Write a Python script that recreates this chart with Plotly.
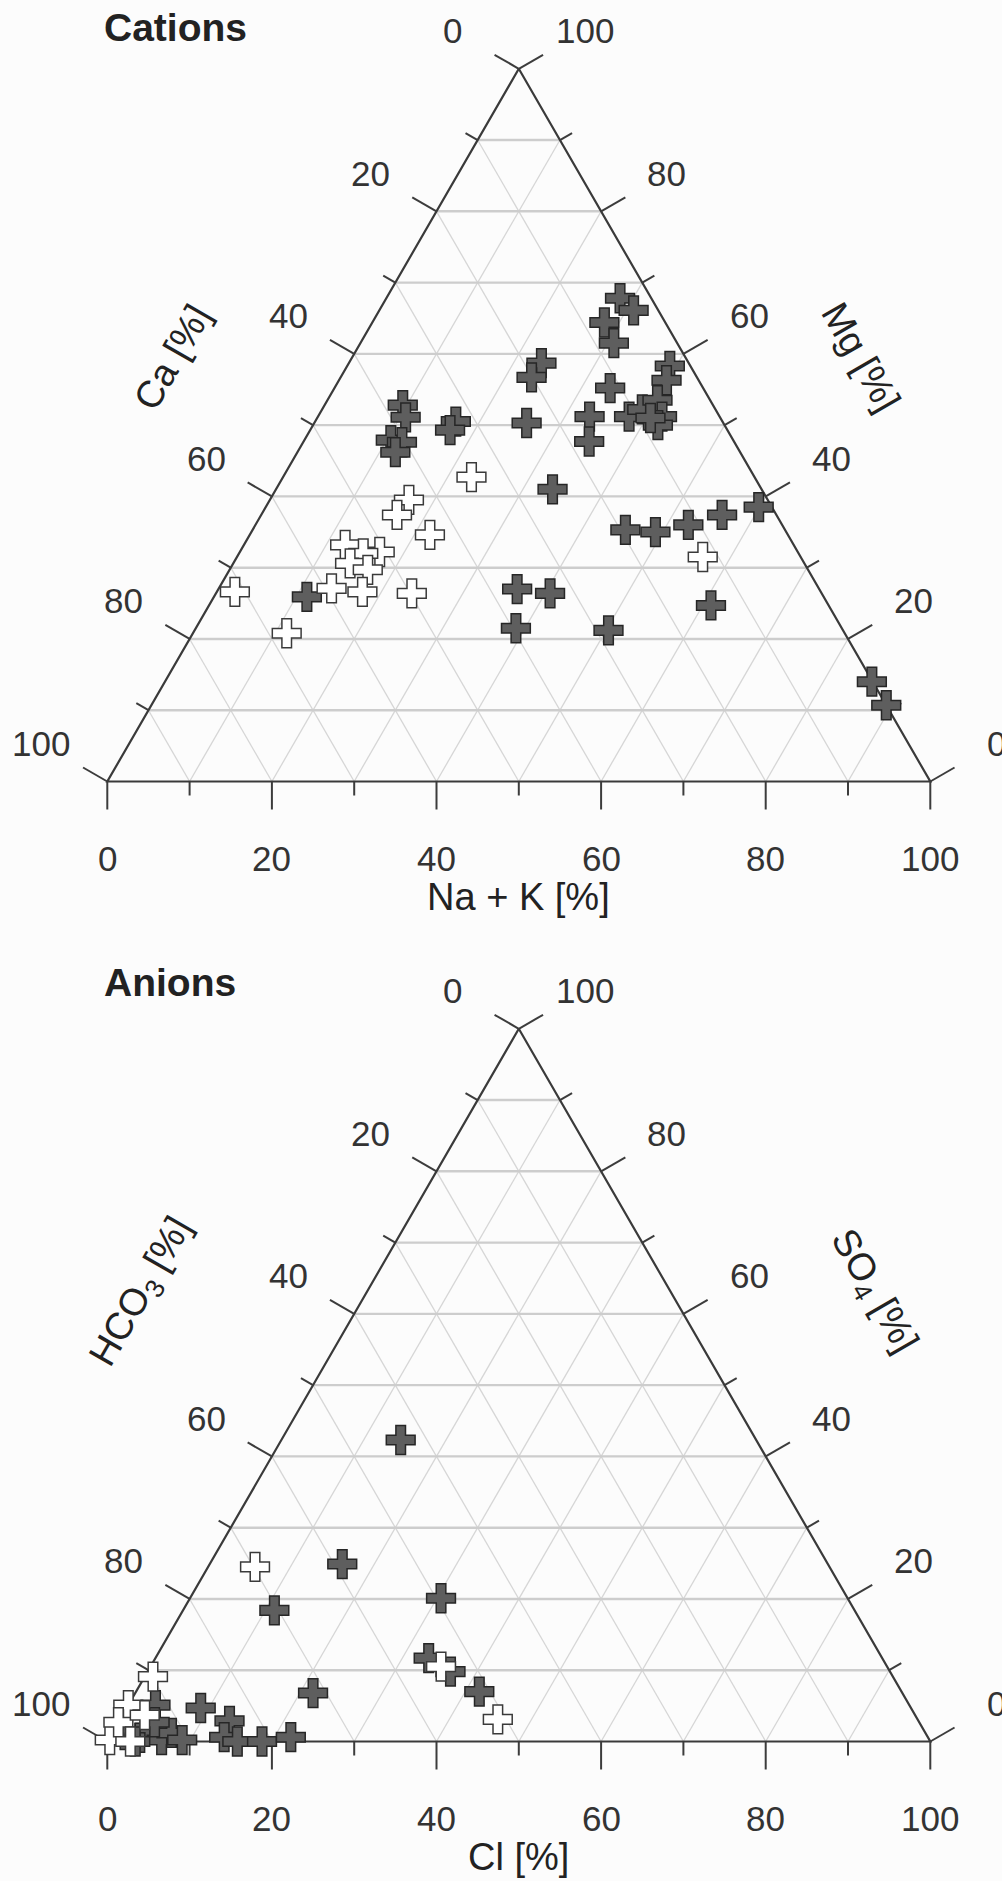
import math
import plotly.graph_objects as go

# ---------------- data (percent) ----------------
# Cations, dark symbols
cat_dark_ca = [3.8, 3.0, 7.4, 7.7, 17.9, 20.1, 2.5, 3.9, 11.3, 11.0, 8.9, 6.4, 7.0, 8.1, 8.5,
               15.8, 17.6, 23.9, 32.4, 33.7, 37.7, 38.2, 41.6, 40.4, 41.9, 25.4, 19.4, 15.9,
               11.4, 6.6, 1.6, 36.7, 33.0, 14.3, 39.6, 28.5, 0.1, 0.0, 62.8]
cat_dark_mg = [67.8, 66.1, 64.4, 61.5, 58.7, 56.7, 58.3, 56.3, 55.2, 51.2, 52.2, 53.5, 51.2, 50.0, 51.0,
               51.2, 47.7, 50.3, 50.5, 49.3, 52.8, 51.1, 47.9, 47.6, 46.2, 41.0, 35.3, 35.0,
               36.0, 37.4, 38.5, 27.0, 26.4, 24.7, 21.5, 21.2, 14.0, 10.7, 25.9]
cat_dark_nak = [28.4, 30.9, 28.2, 30.8, 23.4, 23.2, 39.2, 39.8, 33.5, 37.8, 38.9, 40.1, 41.8, 41.9, 40.5,
                33.0, 34.7, 25.8, 17.1, 17.0, 9.5, 10.7, 10.5, 12.0, 11.9, 33.6, 45.3, 49.1,
                52.6, 56.0, 59.9, 36.3, 40.6, 61.0, 38.9, 50.3, 85.9, 89.3, 11.3]
# Cations, open symbols
cat_open_ca = [34.4, 43.6, 46.1, 43.5, 54.5, 50.8, 52.9, 55.2, 53.5, 71.2, 59.2, 55.7, 49.8, 67.8, 11.9]
cat_open_mg = [42.7, 39.5, 37.4, 34.6, 33.2, 32.2, 32.0, 30.6, 29.7, 26.6, 27.1, 26.6, 26.4, 20.8, 31.5]
cat_open_nak = [22.9, 16.9, 16.5, 21.9, 12.3, 17.0, 15.1, 14.2, 16.8, 2.2, 13.7, 17.7, 23.8, 11.4, 56.6]

# Anions, dark symbols
an_dark_hco3 = [43.2, 59.0, 70.5, 49.4, 55.1, 53.4, 51.3, 71.6, 86.3, 83.7, 85.5, 84.2, 81.2, 77.4, 91.6,
                97.4, 95.8, 93.9, 93.3, 91.6, 90.8, 92.9, 96.6]
an_dark_so4 = [42.3, 24.9, 18.4, 20.1, 11.7, 9.8, 7.0, 6.8, 4.7, 2.9, 0.6, 0.0, 0.0, 0.6, 5.1,
               0.9, 0.5, 1.9, 0.2, 1.2, 0.2, 2.7, 0.0]
an_dark_cl = [14.5, 16.1, 11.1, 30.5, 33.2, 36.8, 41.7, 21.6, 9.0, 13.4, 13.9, 15.8, 18.8, 22.0, 3.3,
              1.7, 3.7, 4.2, 6.5, 7.2, 9.0, 4.4, 3.4]
# Anions, open symbols
an_open_hco3 = [69.8, 51.0, 89.9, 94.9, 54.2, 99.6, 97.3, 97.2, 93.6]
an_open_so4 = [24.5, 3.1, 9.1, 5.1, 10.5, 0.2, 2.7, 0.0, 3.7]
an_open_cl = [5.7, 45.9, 1.0, 0.0, 35.3, 0.2, 0.0, 2.8, 2.7]

tick_steps = list(range(0, 101, 10))
grid_steps = list(range(10, 100, 10))

# ---------------- geometry / style ----------------
FIG_W, FIG_H = 1002, 1881
PX = 8.23            # pixels per percent
X0 = 107.3           # pixel x of the left vertex
CAT_BASE = 781.5     # pixel y of cation base line
AN_BASE = 1741.5     # pixel y of anion base line
SPLIT = 940
S3 = math.sqrt(3) / 2
FONT = "Liberation Sans, Arial, Helvetica, sans-serif"
TXT = "#333333"
TITLE_C = "#222222"


def proj(top, right):
    return right + top / 2.0, top * S3


fig = go.Figure()
annotations = []


def build(xa, ya, top, right, open_top, open_right, title, left_title, right_title,
          bottom_title, title_pos, left_pos, right_pos):
    # grid lines
    hx, hy, dx, dy = [], [], [], []
    for v in grid_steps:
        a = proj(v, 0); b = proj(v, 100 - v)
        hx += [a[0], b[0], None]; hy += [a[1], b[1], None]
        a = proj(0, v); b = proj(100 - v, v)
        dx += [a[0], b[0], None]; dy += [a[1], b[1], None]
        a = proj(0, 100 - v); b = proj(100 - v, 0)
        dx += [a[0], b[0], None]; dy += [a[1], b[1], None]
    fig.add_trace(go.Scatter(x=dx, y=dy, mode="lines", xaxis=xa, yaxis=ya,
                             line=dict(color="#d6d6d6", width=1.3), hoverinfo="skip",
                             showlegend=False))
    fig.add_trace(go.Scatter(x=hx, y=hy, mode="lines", xaxis=xa, yaxis=ya,
                             line=dict(color="#cdcdcd", width=2.4), hoverinfo="skip",
                             showlegend=False))
    # ticks and tick labels
    tx, ty = [], []
    lab_d = 76 / PX
    lab_font = dict(size=35, color=TXT, family=FONT)
    for v in tick_steps:
        major = v % 20 == 0
        L = (28 if major else 14) / PX
        # left edge (bottom-left component = v)
        p = proj(100 - v, 0); d = (-S3, 0.5)
        tx += [p[0], p[0] + d[0] * L, None]; ty += [p[1], p[1] + d[1] * L, None]
        if major:
            annotations.append(dict(x=p[0] + d[0] * lab_d, y=p[1] + d[1] * lab_d, xref=xa,
                                    yref=ya, text=str(v), showarrow=False, font=lab_font))
        # right edge (top component = v)
        p = proj(v, 100 - v); d = (S3, 0.5)
        tx += [p[0], p[0] + d[0] * L, None]; ty += [p[1], p[1] + d[1] * L, None]
        if major:
            annotations.append(dict(x=p[0] + d[0] * lab_d, y=p[1] + d[1] * lab_d, xref=xa,
                                    yref=ya, text=str(v), showarrow=False, font=lab_font))
        # bottom edge (right component = v)
        p = proj(0, v); d = (0, -1)
        tx += [p[0], p[0] + d[0] * L, None]; ty += [p[1], p[1] + d[1] * L, None]
        if major:
            annotations.append(dict(x=p[0], y=p[1] - 77 / PX, xref=xa, yref=ya,
                                    text=str(v), showarrow=False, font=lab_font))
    fig.add_trace(go.Scatter(x=tx, y=ty, mode="lines", xaxis=xa, yaxis=ya,
                             line=dict(color="#3c3c3c", width=2), hoverinfo="skip",
                             showlegend=False))
    # edges
    e = [proj(100, 0), proj(0, 0), proj(0, 100), proj(100, 0)]
    fig.add_trace(go.Scatter(x=[q[0] for q in e], y=[q[1] for q in e], mode="lines",
                             xaxis=xa, yaxis=ya, line=dict(color="#3a3a3a", width=2.2),
                             hoverinfo="skip", showlegend=False))
    # data points
    pts = [proj(t, r) for t, r in zip(top, right)]
    fig.add_trace(go.Scatter(x=[q[0] for q in pts], y=[q[1] for q in pts], mode="markers",
                             xaxis=xa, yaxis=ya, showlegend=False,
                             marker=dict(symbol="cross", size=24, color="#5e5e5e",
                                         line=dict(color="#262626", width=1.5))))
    pts = [proj(t, r) for t, r in zip(open_top, open_right)]
    fig.add_trace(go.Scatter(x=[q[0] for q in pts], y=[q[1] for q in pts], mode="markers",
                             xaxis=xa, yaxis=ya, showlegend=False,
                             marker=dict(symbol="cross", size=24, color="#ffffff",
                                         line=dict(color="#3a3a3a", width=1.5))))
    # titles
    annotations.append(dict(x=title_pos[0], y=title_pos[1], xref=xa, yref=ya,
                            text="<b>%s</b>" % title, showarrow=False, xanchor="left",
                            font=dict(size=39, color=TITLE_C, family=FONT)))
    annotations.append(dict(x=left_pos[0], y=left_pos[1], xref=xa, yref=ya,
                            text=left_title, showarrow=False, textangle=-60,
                            font=dict(size=38, color=TITLE_C, family=FONT)))
    annotations.append(dict(x=right_pos[0], y=right_pos[1], xref=xa, yref=ya,
                            text=right_title, showarrow=False, textangle=60,
                            font=dict(size=38, color=TITLE_C, family=FONT)))
    annotations.append(dict(x=50, y=-14.0, xref=xa, yref=ya,
                            text=bottom_title, showarrow=False,
                            font=dict(size=38, color=TITLE_C, family=FONT)))


build("x", "y", cat_dark_mg, cat_dark_nak, cat_open_mg, cat_open_nak,
      "Cations", "Ca [%]", "Mg [%]", "Na + K [%]",
      (-0.6, 91.6), (7.9, 51.6), (91.6, 51.6))
build("x2", "y2", an_dark_so4, an_dark_cl, an_open_so4, an_open_cl,
      "Anions", "HCO<sub>3</sub> [%]", "SO<sub>4</sub> [%]", "Cl [%]",
      (-0.6, 92.2), (4.3, 54.6), (93.0, 54.6))

xr = [-X0 / PX, (FIG_W - X0) / PX]
split_frac = 1 - SPLIT / FIG_H
ax_common = dict(visible=False, showgrid=False, zeroline=False, fixedrange=True)
fig.update_layout(
    width=FIG_W, height=FIG_H, autosize=False,
    margin=dict(l=0, r=0, t=0, b=0, pad=0),
    paper_bgcolor="#fcfcfc", plot_bgcolor="#fcfcfc",
    xaxis=dict(domain=[0, 1], range=xr, anchor="y", **ax_common),
    yaxis=dict(domain=[split_frac, 1], range=[(CAT_BASE - SPLIT) / PX, CAT_BASE / PX],
               anchor="x", **ax_common),
    xaxis2=dict(domain=[0, 1], range=xr, anchor="y2", **ax_common),
    yaxis2=dict(domain=[0, split_frac], range=[(AN_BASE - FIG_H) / PX, (AN_BASE - SPLIT) / PX],
                anchor="x2", **ax_common),
    annotations=annotations,
    showlegend=False,
)

fig.write_html("out.html")
